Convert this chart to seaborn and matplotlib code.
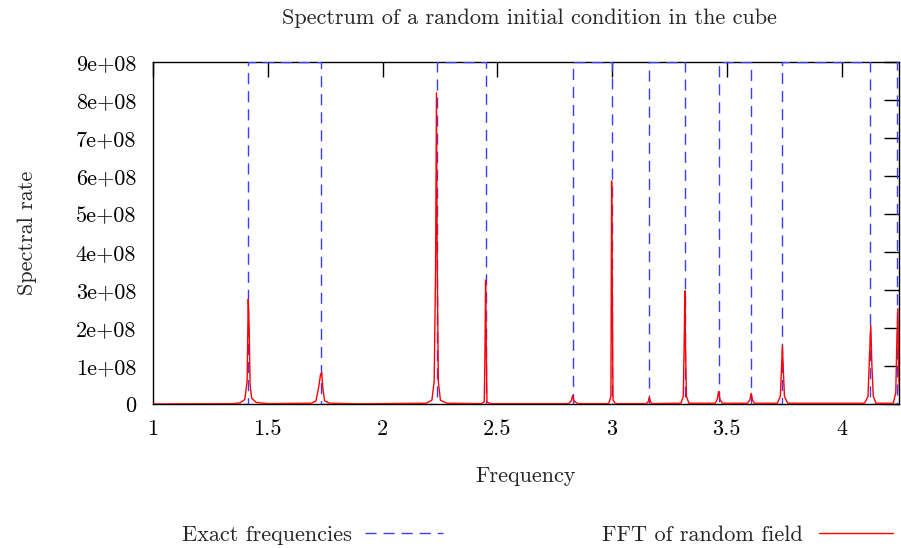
import matplotlib
matplotlib.use("Agg")
import matplotlib.pyplot as plt
import seaborn as sns
import pandas as pd

# Exact eigenfrequencies (step curve alternating between 0 and 9e8)
exact_freq = [1.0, 1.414, 1.732, 2.236, 2.449, 2.828, 3.0, 3.162, 3.317,
              3.464, 3.606, 3.742, 4.123, 4.243, 4.25]
exact_level = [0, 9, 0, 9, 0, 9, 0, 9, 0, 9, 0, 9, 0, 9, 9]  # in units of 1e8

# FFT of the random field (units of 1e8)
fft_freq = [1.0, 1.35,
            1.38, 1.40, 1.41, 1.415, 1.419, 1.423, 1.43, 1.45, 1.50,
            1.69, 1.71, 1.722, 1.730, 1.735, 1.740, 1.748, 1.77, 1.90,
            2.19, 2.215, 2.225, 2.231, 2.235, 2.238, 2.243, 2.252, 2.28,
            2.43, 2.443, 2.446, 2.449, 2.452, 2.455, 2.47,
            2.81, 2.822, 2.828, 2.834, 2.85,
            2.985, 2.995, 2.998, 3.001, 3.004, 3.015,
            3.15, 3.157, 3.162, 3.167, 3.175,
            3.30, 3.31, 3.314, 3.317, 3.320, 3.324, 3.335,
            3.45, 3.458, 3.464, 3.470, 3.48,
            3.59, 3.600, 3.606, 3.612, 3.62,
            3.72, 3.733, 3.738, 3.742, 3.746, 3.751, 3.765,
            4.10, 4.115, 4.121, 4.127, 4.132, 4.138, 4.15,
            4.225, 4.236, 4.240, 4.245, 4.248, 4.252]
fft_rate = [0.0, 0.01,
            0.03, 0.12, 0.6, 2.76, 2.0, 0.5, 0.15, 0.04, 0.01,
            0.02, 0.08, 0.45, 0.78, 0.82, 0.4, 0.08, 0.02, 0.005,
            0.02, 0.1, 0.6, 3.5, 8.19, 4.0, 0.6, 0.1, 0.02,
            0.01, 0.05, 1.2, 3.26, 1.5, 0.05, 0.01,
            0.01, 0.08, 0.22, 0.08, 0.01,
            0.01, 0.2, 5.87, 3.0, 0.1, 0.01,
            0.01, 0.06, 0.17, 0.06, 0.01,
            0.02, 0.2, 1.5, 2.98, 1.5, 0.2, 0.02,
            0.02, 0.12, 0.33, 0.12, 0.02,
            0.02, 0.1, 0.28, 0.1, 0.02,
            0.02, 0.2, 0.9, 1.53, 0.9, 0.2, 0.02,
            0.02, 0.2, 1.2, 2.07, 1.0, 0.2, 0.02,
            0.02, 0.3, 1.5, 2.51, 1.0, 0.3]

y_ticks = [0, 1, 2, 3, 4, 5, 6, 7, 8, 9]
y_labels = ["0", "1e+08", "2e+08", "3e+08", "4e+08", "5e+08",
            "6e+08", "7e+08", "8e+08", "9e+08"]
x_ticks = [1, 1.5, 2, 2.5, 3, 3.5, 4]
x_labels = ["1", "1.5", "2", "2.5", "3", "3.5", "4"]

sns.set_theme(style="white")
plt.rcParams["font.family"] = ["cmr10", "DejaVu Serif"]
plt.rcParams["axes.unicode_minus"] = False
fs = 16

exact = pd.DataFrame({"f": exact_freq, "v": [v * 1e8 for v in exact_level]})
fft = pd.DataFrame({"f": fft_freq, "v": [v * 1e8 for v in fft_rate]})

fig = plt.figure(figsize=(9.01, 5.48), dpi=100)
ax = fig.add_axes([153 / 901, 1 - 404 / 548, (899 - 153) / 901, (404 - 62) / 548])

blue = "#3c3cff"
sns.lineplot(data=exact, x="f", y="v", ax=ax, color=blue, lw=1.0,
             drawstyle="steps-post", sort=False, zorder=4)
ax.lines[-1].set_dashes([8, 5])
sns.lineplot(data=fft, x="f", y="v", ax=ax, color="#ff0000", lw=1.0,
             sort=False, zorder=5)

ax.set_xlim(1, 4.25)
ax.set_ylim(0, 9e8)
ax.set_xticks(x_ticks)
ax.set_xticklabels(x_labels)
ax.set_yticks([t * 1e8 for t in y_ticks])
ax.set_yticklabels(y_labels)
ax.tick_params(direction="in", top=True, right=True, length=11, width=1,
               color="black", labelsize=fs, labelcolor="black")
ax.tick_params(axis="x", pad=11)
ax.tick_params(axis="y", pad=12)
for s in ax.spines.values():
    s.set_color("black")
    s.set_linewidth(1.0)
    s.set_zorder(3)

ax.set_xlabel("Frequency", fontsize=fs, labelpad=20)
ax.set_ylabel("Spectral rate", fontsize=fs, labelpad=28)
fig.text(529 / 901, 1 - 18 / 548, "Spectrum of a random initial condition in the cube",
         ha="center", va="center", fontsize=fs)

h_exact = ax.lines[0]
h_fft = ax.lines[1]
fig.legend([h_exact], ["Exact frequencies"], loc="center right",
           bbox_to_anchor=(443 / 901, 1 - 535 / 548), markerfirst=False,
           frameon=False, handlelength=3.5, handletextpad=0.6,
           borderpad=0, borderaxespad=0, fontsize=fs)
fig.legend([h_fft], ["FFT of random field"], loc="center right",
           bbox_to_anchor=(893 / 901, 1 - 535 / 548), markerfirst=False,
           frameon=False, handlelength=3.35, handletextpad=0.7,
           borderpad=0, borderaxespad=0, fontsize=fs)

fig.savefig("out.png", dpi=100)
